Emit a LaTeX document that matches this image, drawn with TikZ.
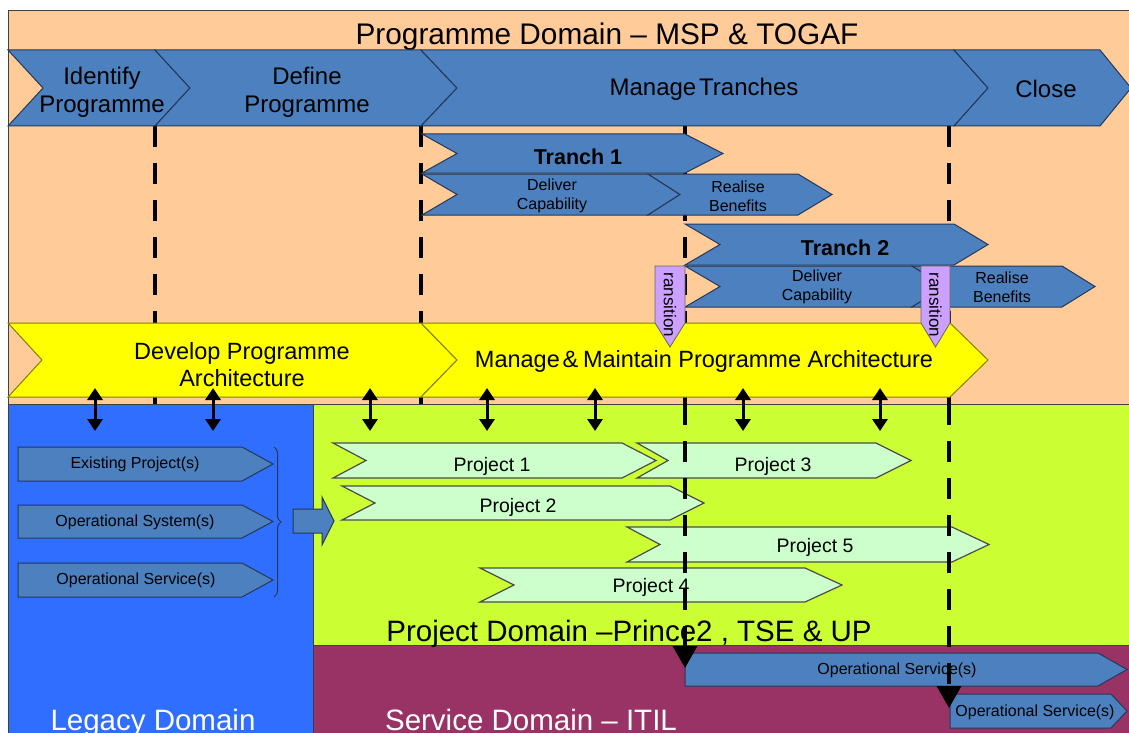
\documentclass[tikz,border=0pt]{standalone}
\usepackage{fontspec}
\setmainfont{Liberation Sans}
\usetikzlibrary{arrows.meta,decorations.pathreplacing}

\definecolor{peach}{RGB}{255,204,153}
\definecolor{phaseblue}{RGB}{76,128,190}
\definecolor{phaseedge}{RGB}{36,56,88}
\definecolor{archyellow}{RGB}{255,255,0}
\definecolor{archedge}{RGB}{130,130,0}
\definecolor{lavender}{RGB}{204,160,255}
\definecolor{legacyblue}{RGB}{48,110,255}
\definecolor{projgreen}{RGB}{204,255,51}
\definecolor{projpale}{RGB}{204,255,204}
\definecolor{servmaroon}{RGB}{153,51,102}
\definecolor{frameline}{RGB}{64,64,64}

% chevron: style, left x, top y, tip x, bottom y, notch depth, tip depth, centre name
\newcommand\phasechevron[8]{%
  \path[#1] (#2,#3) -- ({#4-#7},#3) -- (#4,{(#3+#5)/2}) -- ({#4-#7},#5)
    -- (#2,#5) -- ({#2+#6},{(#3+#5)/2}) -- cycle;
  \coordinate (#8) at ({(#2+#4)/2},{(#3+#5)/2});}

\begin{document}
\begin{tikzpicture}[x=1pt,y=-1pt,
  areabox/.style={draw=frameline,line width=0.8pt},
  phase/.style={fill=phaseblue,draw=phaseedge,line width=1pt},
  arch/.style={fill=archyellow,draw=archedge,line width=1pt},
  proj/.style={fill=projpale,draw=black!70,line width=1.2pt},
  trans/.style={fill=lavender,draw=black!60,line width=0.8pt},
  milestone/.style={line width=3.5pt,dash pattern=on 21pt off 16pt},
  dblarrow/.style={line width=3pt,{Triangle[width=15pt,length=12pt]}-{Triangle[width=15pt,length=12pt]}},
  lbl/.style={inner sep=0pt,align=center,text=black},
  toplbl/.style={lbl,font=\fontsize{24}{28}\selectfont},
  tranchlbl/.style={lbl,font=\fontsize{21.5}{24}\selectfont\bfseries},
  smalllbl/.style={lbl,font=\fontsize{16}{19}\selectfont},
  projlbl/.style={lbl,font=\fontsize{19.5}{22}\selectfont},
  archlbl/.style={lbl,font=\fontsize{23.5}{27}\selectfont},
  domlbl/.style={inner sep=0pt,anchor=base,font=\fontsize{29.5}{34}\selectfont},
]
\useasboundingbox (0,0) rectangle (1129,733);
\clip (0,0) rectangle (1129,733);
\fill[white] (0,0) rectangle (1129,733);

% domain areas
\path[areabox,fill=peach] (8,10) rectangle (1140,404);
\path[areabox,fill=legacyblue] (8,404) rectangle (313,745);
\path[areabox,fill=projgreen] (313,404) rectangle (1140,645);
\path[areabox,fill=servmaroon] (313,645) rectangle (1140,745);

% milestone lines behind the programme chevrons
\foreach \x [count=\i] in {155,421,685,949}{
  \coordinate (ms\i top) at (\x,126);
  \coordinate (ms\i mid) at (\x,404);
  \draw[milestone] (ms\i top) -- (ms\i mid);
}

\node[lbl,anchor=base,font=\fontsize{29.8}{33}\selectfont] (title) at (607,45)
  {Programme Domain – MSP \& TOGAF};

% programme phases
\phasechevron{phase}{8}{50}{190}{126}{35}{35}{identify}
\phasechevron{phase}{155}{50}{457}{126}{35}{36}{define}
\phasechevron{phase}{421}{50}{988}{126}{36}{34}{manage}
\phasechevron{phase}{954}{50}{1131}{126}{34}{31}{close}
\node[toplbl] (identifylbl) at (102,92) {Identify\\Programme};
\node[toplbl] (definelbl) at (307,92) {Define\\Programme};
\node[toplbl] (managelbl) at (704,89) {Manage\hspace{0.12em}Tranches};
\node[toplbl] (closelbl) at (1046,89) {Close};

% tranches
\phasechevron{phase}{422}{134}{723}{173}{35}{38}{tranch1}
\phasechevron{phase}{422}{174}{680}{215}{35}{32}{deliver1}
\phasechevron{phase}{648}{174}{832}{215}{32}{34}{realise1}
\phasechevron{phase}{685}{224}{988}{265}{35}{34}{tranch2}
\phasechevron{phase}{685}{266}{945}{307}{35}{33}{deliver2}
\phasechevron{phase}{912}{266}{1095}{307}{33}{33}{realise2}
\node[tranchlbl] (tranch1lbl) at (578,157) {Tranch 1};
\node[smalllbl] (deliver1lbl) at (552,196) {Deliver\\Capability};
\node[smalllbl] (realise1lbl) at (738,196) {Realise\\Benefits};
\node[tranchlbl] (tranch2lbl) at (845,248) {Tranch 2};
\node[smalllbl] (deliver2lbl) at (817,287) {Deliver\\Capability};
\node[smalllbl] (realise2lbl) at (1002,287) {Realise\\Benefits};

% architecture
\phasechevron{arch}{8}{323}{457}{397}{34}{36}{develop}
\phasechevron{arch}{421}{323}{988}{397}{36}{38}{maintain}
\node[archlbl] (developlbl) at (242,365) {Develop Programme\\Architecture};
\node[archlbl] (maintainlbl) at (704,361) {Manage\hspace{0.12em}\&\hspace{0.2em}Maintain Programme Architecture};

% transition markers
\path[trans] (655,266) -- (685,266) -- (685,323) -- (670,347) -- (655,323) -- cycle;
\path[trans] (921,266) -- (950,266) -- (950,323) -- (935.5,347) -- (921,323) -- cycle;
\node[lbl,rotate=-90,font=\fontsize{17}{19}\selectfont] (trans1) at (670,305) {ransition};
\node[lbl,rotate=-90,font=\fontsize{17}{19}\selectfont] (trans2) at (935.5,305) {ransition};

% architecture links
\foreach \x [count=\i] in {95,213,370,487,595,743,880}{
  \coordinate (link\i a) at (\x,388);
  \coordinate (link\i b) at (\x,431);
  \draw[dblarrow] (link\i a) -- (link\i b);
}

% domain titles
\node[domlbl,text=white] (legacydom) at (153,730) {Legacy Domain};
\node[domlbl] (projectdom) at (629,641) {Project Domain –Prince2 , TSE \& UP};
\node[domlbl,text=white] (servicedom) at (531,730) {Service Domain – ITIL};

% legacy items
\phasechevron{phase}{18}{447}{273}{481}{0}{31}{existing}
\phasechevron{phase}{18}{505}{273}{538}{0}{31}{opsystem}
\phasechevron{phase}{18}{563}{273}{597}{0}{31}{opservice}
\node[smalllbl] (existinglbl) at (135,464) {Existing Project(s)};
\node[smalllbl] (opsystemlbl) at (135,522) {Operational System(s)};
\node[smalllbl] (opservicelbl) at (136,580) {Operational Service(s)};
\coordinate (bracetop) at (274,447);
\coordinate (bracebot) at (274,597);
\draw[phaseedge,line width=1pt,decorate,decoration={brace,amplitude=7pt}] (bracetop) -- (bracebot);
\path[phase] (293,509) -- (322,509) -- (322,497) -- (334,521) -- (322,545) -- (322,533) -- (293,533) -- cycle;

% projects
\phasechevron{proj}{333}{443}{656}{478}{33}{34}{project1}
\phasechevron{proj}{637}{443}{911}{478}{31}{35}{project3}
\phasechevron{proj}{342}{486}{704}{520}{33}{34}{project2}
\phasechevron{proj}{627}{527}{989}{562}{33}{37}{project5}
\phasechevron{proj}{480}{568}{842}{602}{34}{37}{project4}
\node[projlbl] (project1lbl) at (492,466) {Project 1};
\node[projlbl] (project3lbl) at (773,466) {Project 3};
\node[projlbl] (project2lbl) at (518,507) {Project 2};
\node[projlbl] (project5lbl) at (815,547) {Project 5};
\node[projlbl] (project4lbl) at (651,587) {Project 4};

% operational services
\phasechevron{phase}{685}{653}{1127}{686}{0}{29}{service1}
\phasechevron{phase}{950}{694}{1127}{728}{0}{16}{service2}
\node[smalllbl] (service1lbl) at (897,670) {Operational Service(s)};
\node[smalllbl] (service2lbl) at (1035,712) {Operational Service(s)};

% milestone lines over the project domain, ending in hand-over arrows
\coordinate (ms3end) at (685,668);
\coordinate (ms4end) at (949,708);
\draw[milestone,-{Triangle[width=24pt,length=22pt]}] (ms3mid) -- (ms3end);
\draw[milestone,-{Triangle[width=24pt,length=22pt]}] (ms4mid) -- (ms4end);
\end{tikzpicture}
\end{document}
